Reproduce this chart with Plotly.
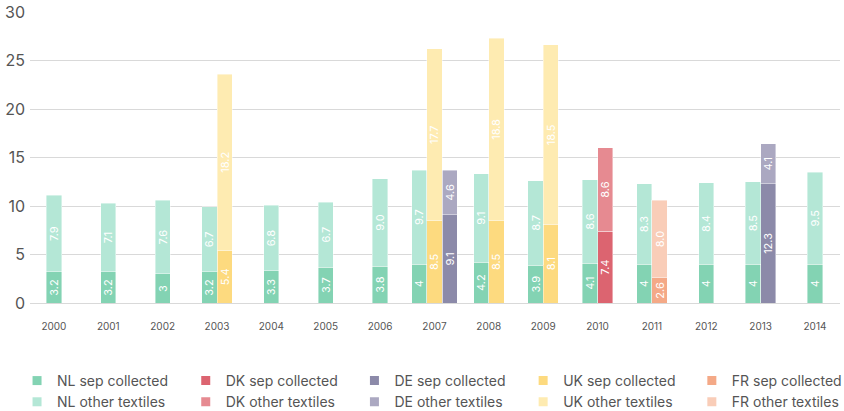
import plotly.graph_objects as go

years = [str(y) for y in range(2000, 2015)]
countries = ["NL", "DK", "DE", "UK", "FR"]
pack_order = ["NL", "UK", "DE", "DK", "FR"]

N = None
sep = {
    "NL": [3.2, 3.2, 3, 3.2, 3.3, 3.7, 3.8, 4, 4.2, 3.9, 4.1, 4, 4, 4, 4],
    "DK": [N, N, N, N, N, N, N, N, N, N, 7.4, N, N, N, N],
    "DE": [N, N, N, N, N, N, N, 9.1, N, N, N, N, N, 12.3, N],
    "UK": [N, N, N, 5.4, N, N, N, 8.5, 8.5, 8.1, N, N, N, N, N],
    "FR": [N, N, N, N, N, N, N, N, N, N, N, 2.6, N, N, N],
}
other = {
    "NL": [7.9, 7.1, 7.6, 6.7, 6.8, 6.7, 9.0, 9.7, 9.1, 8.7, 8.6, 8.3, 8.4, 8.5, 9.5],
    "DK": [N, N, N, N, N, N, N, N, N, N, 8.6, N, N, N, N],
    "DE": [N, N, N, N, N, N, N, 4.6, N, N, N, N, N, 4.1, N],
    "UK": [N, N, N, 18.2, N, N, N, 17.7, 18.8, 18.5, N, N, N, N, N],
    "FR": [N, N, N, N, N, N, N, N, N, N, N, 8.0, N, N, N],
}
sep_colors = {"NL": "#83d3b3", "DK": "#dc6470", "DE": "#8c8aa9", "UK": "#fdda7f", "FR": "#f4a987"}
other_colors = {"NL": "#b4e7d6", "DK": "#e68a91", "DE": "#aba8c1", "UK": "#feebb1", "FR": "#f9cdb8"}

W = 0.28
FONT = "Inter, Roboto, sans-serif"

# compute packed, centred x positions per category
xpos = {c: [None] * len(years) for c in countries}
for i in range(len(years)):
    present = [c for c in pack_order if sep[c][i] is not None]
    n = len(present)
    for k, c in enumerate(present):
        xpos[c][i] = i + (k - (n - 1) / 2) * W

fig = go.Figure()
line = dict(color="rgba(255,255,255,0.7)", width=0.6)
for c in countries:
    fig.add_trace(go.Bar(
        x=xpos[c], y=sep[c], width=W, marker=dict(color=sep_colors[c], line=line),
        texttemplate="%{y}", textposition="inside", insidetextanchor="middle",
        textangle=-90, textfont=dict(color="white", size=11, family=FONT),
        showlegend=False, hoverinfo="skip"))
for c in countries:
    fig.add_trace(go.Bar(
        x=xpos[c], y=other[c], width=W, marker=dict(color=other_colors[c], line=line),
        texttemplate="%{y:.1f}", textposition="inside", insidetextanchor="middle",
        textangle=-90, textfont=dict(color="white", size=11, family=FONT),
        showlegend=False, hoverinfo="skip"))

# legend proxies: one small vertical legend per country column
legend_ids = ["legend"] + [f"legend{k}" for k in range(2, len(countries) + 1)]
for k, c in enumerate(countries):
    fig.add_trace(go.Scatter(x=[None], y=[None], mode="markers", name=f"{c} sep collected",
                             legend=legend_ids[k],
                             marker=dict(symbol="square", size=9, color=sep_colors[c])))
    fig.add_trace(go.Scatter(x=[None], y=[None], mode="markers", name=f"{c} other textiles",
                             legend=legend_ids[k],
                             marker=dict(symbol="square", size=9, color=other_colors[c])))

legend_layout = {}
for k, lid in enumerate(legend_ids):
    legend_layout[lid] = dict(
        orientation="v", x=-0.016 + k * 168.7 / 810, xanchor="left",
        y=-0.213, yanchor="top", traceorder="normal", bgcolor="rgba(0,0,0,0)",
        font=dict(size=14, color="#555555", family=FONT))

fig.update_layout(
    width=844, height=411,
    margin=dict(l=30, r=4, t=12, b=108, autoexpand=False),
    barmode="stack",
    plot_bgcolor="white", paper_bgcolor="white",
    font=dict(family=FONT, color="#555555"),
    uniformtext=dict(minsize=11, mode="show"),
    showlegend=True,
    xaxis=dict(range=[-0.44, 14.46], tickvals=list(range(len(years))), ticktext=years,
               showgrid=False, zeroline=False, showline=False,
               tickfont=dict(size=10, color="#555555"), ticklabelstandoff=16),
    yaxis=dict(range=[0, 30], dtick=5, showgrid=True, gridcolor="#d9d9d9", gridwidth=1,
               zeroline=True, zerolinecolor="#d9d9d9", zerolinewidth=1,
               tickfont=dict(size=16, color="#555555"), ticklabelstandoff=4),
    **legend_layout,
)

fig.write_html("out.html", config={"displayModeBar": False},
               post_script="document.body.style.margin='0px';")
